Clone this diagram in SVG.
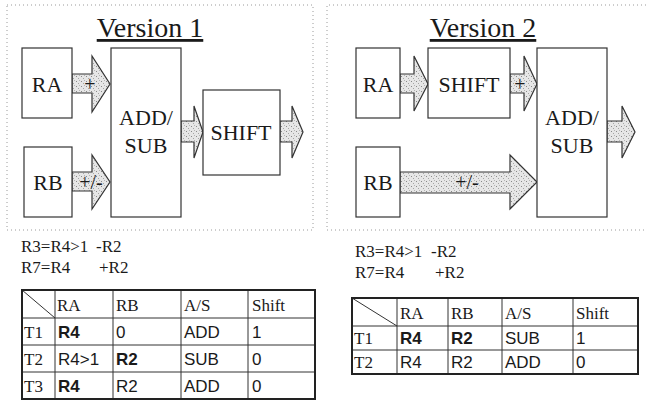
<svg xmlns="http://www.w3.org/2000/svg" width="646" height="417" viewBox="0 0 646 417">
<style>
.frame{fill:none;stroke:#9a9a9a;stroke-width:1;stroke-dasharray:1 3}
.box{fill:#fff;stroke:#333;stroke-width:1.2}
.arr{fill:url(#stip);stroke:#333;stroke-width:1.2;stroke-linejoin:miter}
.t{font-family:"Liberation Serif","Times New Roman",serif;fill:#1a1a1a}
.s{font-family:"Liberation Sans",Arial,sans-serif;fill:#1a1a1a}
.title{font-size:28px;text-anchor:middle;text-decoration:underline}
.lbl{font-size:22px;text-anchor:middle}
.al{font-size:20px;text-anchor:middle}
.eq{font-size:17px}
.th{font-size:17px}
.td{font-size:17px}
.b{font-weight:bold}
.outer{fill:none;stroke:#222;stroke-width:2}
.grid{stroke:#333;stroke-width:1;fill:none}
</style>
<defs>
<pattern id="stip" width="5" height="5" patternUnits="userSpaceOnUse">
<rect width="5" height="5" fill="#e6e6e6"/>
<rect x="1" y="1" width="1" height="1" fill="#8a8a8a"/>
<rect x="3" y="3" width="1" height="1" fill="#a5a5a5"/>
<rect x="4" y="0" width="1" height="1" fill="#b5b5b5"/>
</pattern>
</defs>
<g id="frames">
<rect class="frame" x="7" y="5" width="306" height="225"/>
<path class="frame" d="M646 5 H327 V230 H646"/>
</g>
<g id="titles">
<text class="t title" x="150" y="37">Version 1</text>
<text class="t title" x="483" y="37">Version 2</text>
</g>
<g id="connectors">
<polygon class="arr" points="72,74 92,74 92,56 110,84 92,112 92,93 72,93"/>
<polygon class="arr" points="72,172 92,172 92,155 110,182 92,209 92,191 72,191"/>
<polygon class="arr" points="181,121 194,121 194,106 203,132 194,158 194,142 181,142"/>
<polygon class="arr" points="280,121 292,121 292,106 303,132 292,158 292,142 280,142"/>
<polygon class="arr" points="400,74 414,74 414,56 428,84 414,111 414,93 400,93"/>
<polygon class="arr" points="510,74 524,74 524,56 537,84 524,111 524,93 510,93"/>
<polygon class="arr" points="400,172 510,172 510,155 537,182 510,209 510,193 400,193"/>
<polygon class="arr" points="607,121 622,121 622,106 635,132 622,158 622,142 607,142"/>
<text class="t al" x="90" y="91">+</text>
<text class="t al" x="91" y="189">+/-</text>
<text class="t al" x="520" y="91">+</text>
<text class="t al" x="467" y="189">+/-</text>
</g>
<g id="v1-ra"><rect class="box" x="22" y="48" width="50" height="70"/><text class="t lbl" x="47" y="92">RA</text></g>
<g id="v1-rb"><rect class="box" x="24" y="147" width="48" height="70"/><text class="t lbl" x="48" y="190">RB</text></g>
<g id="v1-addsub"><rect class="box" x="111" y="48" width="70" height="169"/><text class="t lbl" x="146" y="125">ADD/</text><text class="t lbl" x="146" y="153">SUB</text></g>
<g id="v1-shift"><rect class="box" x="203" y="90" width="77" height="85"/><text class="t lbl" x="241" y="140">SHIFT</text></g>
<g id="v2-ra"><rect class="box" x="356" y="48" width="44" height="70"/><text class="t lbl" x="378" y="92">RA</text></g>
<g id="v2-shift"><rect class="box" x="428" y="48" width="82" height="70"/><text class="t lbl" x="469" y="92">SHIFT</text></g>
<g id="v2-addsub"><rect class="box" x="537" y="48" width="70" height="169"/><text class="t lbl" x="572" y="125">ADD/</text><text class="t lbl" x="572" y="153">SUB</text></g>
<g id="v2-rb"><rect class="box" x="356" y="147" width="44" height="70"/><text class="t lbl" x="378" y="190">RB</text></g>
<g id="eq1">
<text class="t eq" x="21" y="252">R3=R4&gt;1</text><text class="t eq" x="96" y="252">-R2</text>
<text class="t eq" x="21" y="273">R7=R4</text><text class="t eq" x="99" y="273">+R2</text>
</g>
<g id="eq2">
<text class="t eq" x="355" y="257">R3=R4&gt;1</text><text class="t eq" x="431" y="257">-R2</text>
<text class="t eq" x="355" y="278">R7=R4</text><text class="t eq" x="435" y="278">+R2</text>
</g>
<g id="table1">
<path class="grid" d="M22 318 H315 M22 345 H315 M22 372 H315 M55 290 V399 M113 290 V399 M181 290 V399 M248 290 V399 M22 290 L55 318"/>
<rect class="outer" x="22" y="290" width="293" height="109"/>
<text class="t th" x="57" y="311">RA</text><text class="t th" x="116" y="311">RB</text><text class="t th" x="184" y="311">A/S</text><text class="t th" x="252" y="311">Shift</text>
<text class="t th" x="24" y="338">T1</text><text class="s td b" x="58" y="338">R4</text><text class="s td" x="116" y="338">0</text><text class="s td" x="184" y="338">ADD</text><text class="s td" x="252" y="338">1</text>
<text class="t th" x="24" y="365">T2</text><text class="s td" x="58" y="365">R4&gt;1</text><text class="s td b" x="116" y="365">R2</text><text class="s td" x="184" y="365">SUB</text><text class="s td" x="252" y="365">0</text>
<text class="t th" x="24" y="392">T3</text><text class="s td b" x="58" y="392">R4</text><text class="s td" x="116" y="392">R2</text><text class="s td" x="184" y="392">ADD</text><text class="s td" x="252" y="392">0</text>
</g>
<g id="table2">
<path class="grid" d="M352 326 H638 M352 350 H638 M397 298 V374 M448 298 V374 M502 298 V374 M573 298 V374 M352 298 L397 326"/>
<rect class="outer" x="352" y="298" width="286" height="76"/>
<text class="t th" x="400" y="319">RA</text><text class="t th" x="451" y="319">RB</text><text class="t th" x="505" y="319">A/S</text><text class="t th" x="576" y="319">Shift</text>
<text class="t th" x="354" y="344">T1</text><text class="s td b" x="400" y="344">R4</text><text class="s td b" x="451" y="344">R2</text><text class="s td" x="505" y="344">SUB</text><text class="s td" x="576" y="344">1</text>
<text class="t th" x="354" y="368">T2</text><text class="s td" x="400" y="368">R4</text><text class="s td" x="451" y="368">R2</text><text class="s td" x="505" y="368">ADD</text><text class="s td" x="576" y="368">0</text>
</g>
</svg>
